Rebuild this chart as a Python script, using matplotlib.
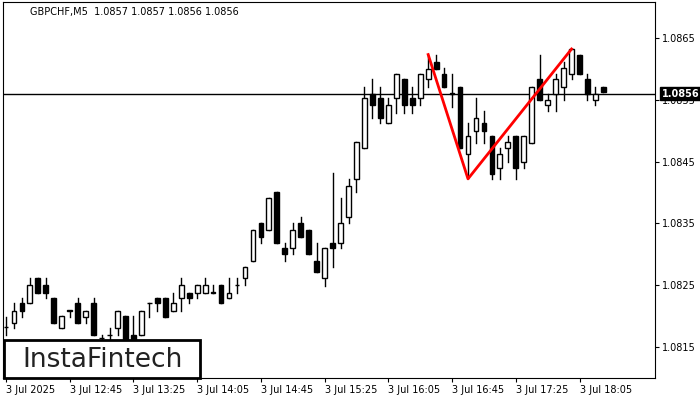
import matplotlib.pyplot as plt
from matplotlib.patches import Rectangle

symbol_title = "GBPCHF,M5  1.0857 1.0857 1.0856 1.0856"
last_price = 1.0856

opens = [1.08182, 1.08189, 1.08221, 1.08221, 1.08261, 1.08250, 1.08230, 1.08181, 1.08209, 1.08221,
         1.08198, 1.08221, 1.08164, 1.08169, 1.08181, 1.08200, 1.08169, 1.08169, 1.08221, 1.08230,
         1.08230, 1.08209, 1.08230, 1.08238, 1.08238, 1.08238, 1.08238, 1.08250, 1.08230, 1.08250,
         1.08261, 1.08290, 1.08351, 1.08340, 1.08401, 1.08311, 1.08311, 1.08351, 1.08340, 1.08290,
         1.08261, 1.08319, 1.08319, 1.08361, 1.08422, 1.08472, 1.08560, 1.08552, 1.08512, 1.08552,
         1.08583, 1.08552, 1.08552, 1.08583, 1.08611, 1.08592, 1.08560, 1.08571, 1.08462, 1.08500,
         1.08512, 1.08491, 1.08439, 1.08472, 1.08491, 1.08449, 1.08480, 1.08583, 1.08541, 1.08560,
         1.08570, 1.08592, 1.08623, 1.08583, 1.08550, 1.08571]
highs = [1.08198, 1.08221, 1.08230, 1.08261, 1.08261, 1.08261, 1.08230, 1.08200, 1.08209, 1.08230,
         1.08209, 1.08230, 1.08169, 1.08181, 1.08209, 1.08200, 1.08200, 1.08209, 1.08221, 1.08230,
         1.08230, 1.08238, 1.08261, 1.08238, 1.08250, 1.08261, 1.08250, 1.08250, 1.08261, 1.08261,
         1.08279, 1.08340, 1.08351, 1.08391, 1.08401, 1.08319, 1.08351, 1.08361, 1.08340, 1.08319,
         1.08311, 1.08431, 1.08391, 1.08422, 1.08481, 1.08571, 1.08583, 1.08571, 1.08552, 1.08592,
         1.08583, 1.08571, 1.08592, 1.08623, 1.08623, 1.08602, 1.08592, 1.08571, 1.08512, 1.08552,
         1.08531, 1.08491, 1.08472, 1.08491, 1.08491, 1.08491, 1.08571, 1.08623, 1.08560, 1.08592,
         1.08611, 1.08632, 1.08623, 1.08592, 1.08571, 1.08571]
lows = [1.08169, 1.08181, 1.08198, 1.08221, 1.08238, 1.08230, 1.08189, 1.08181, 1.08198, 1.08189,
        1.08189, 1.08169, 1.08156, 1.08161, 1.08169, 1.08153, 1.08161, 1.08169, 1.08198, 1.08209,
        1.08198, 1.08209, 1.08209, 1.08221, 1.08230, 1.08238, 1.08238, 1.08221, 1.08230, 1.08238,
        1.08250, 1.08290, 1.08319, 1.08340, 1.08319, 1.08290, 1.08301, 1.08328, 1.08301, 1.08271,
        1.08248, 1.08279, 1.08311, 1.08351, 1.08401, 1.08472, 1.08520, 1.08512, 1.08512, 1.08529,
        1.08529, 1.08529, 1.08541, 1.08571, 1.08600, 1.08570, 1.08539, 1.08472, 1.08423, 1.08480,
        1.08480, 1.08422, 1.08422, 1.08449, 1.08422, 1.08439, 1.08480, 1.08550, 1.08531, 1.08531,
        1.08550, 1.08583, 1.08592, 1.08550, 1.08541, 1.08562]
closes = [1.08183, 1.08209, 1.08208, 1.08250, 1.08238, 1.08238, 1.08189, 1.08200, 1.08209, 1.08189,
          1.08209, 1.08169, 1.08164, 1.08169, 1.08209, 1.08153, 1.08161, 1.08209, 1.08221, 1.08221,
          1.08198, 1.08221, 1.08250, 1.08230, 1.08250, 1.08250, 1.08238, 1.08221, 1.08238, 1.08250,
          1.08279, 1.08340, 1.08328, 1.08391, 1.08319, 1.08301, 1.08340, 1.08328, 1.08301, 1.08271,
          1.08311, 1.08311, 1.08351, 1.08410, 1.08481, 1.08552, 1.08541, 1.08520, 1.08541, 1.08592,
          1.08541, 1.08541, 1.08592, 1.08600, 1.08600, 1.08570, 1.08560, 1.08472, 1.08491, 1.08520,
          1.08500, 1.08430, 1.08462, 1.08481, 1.08439, 1.08491, 1.08571, 1.08550, 1.08550, 1.08583,
          1.08602, 1.08632, 1.08592, 1.08560, 1.08560, 1.08562]

# double top pattern: bar index -> price
pattern_idx = [53, 58, 71]
pattern_price = [1.08623, 1.08422, 1.08632]

price_ticks = [1.0815, 1.0825, 1.0835, 1.0845, 1.0855, 1.0865]
time_tick_idx = [0, 8, 16, 24, 32, 40, 48, 56, 64, 72]
time_tick_labels = ["3 Jul 2025", "3 Jul 12:45", "3 Jul 13:25", "3 Jul 14:05", "3 Jul 14:45",
                    "3 Jul 15:25", "3 Jul 16:05", "3 Jul 16:45", "3 Jul 17:25", "3 Jul 18:05"]

fig = plt.figure(figsize=(7, 4), dpi=100)
ax = fig.add_axes([0.004, 0.055, 0.932, 0.94])

w = 0.6
for i, (o, h, l, c) in enumerate(zip(opens, highs, lows, closes)):
    ax.plot([i, i], [l, h], color='black', lw=1, zorder=2)
    bottom = min(o, c)
    height = max(abs(c - o), 0.000008)
    face = 'white' if c > o else 'black'
    ax.add_patch(Rectangle((i - w / 2, bottom), w, height, facecolor=face,
                           edgecolor='black', lw=1, zorder=3))

ax.plot(pattern_idx, pattern_price, color='#ff0000', lw=2, zorder=4)
ax.axhline(last_price, color='black', lw=1, zorder=1)

ax.set_xlim(-0.4, 81.5)
ax.set_ylim(1.08100, 1.08708)

ax.yaxis.tick_right()
ax.set_yticks(price_ticks)
ax.set_yticklabels([f"{p:.4f}" for p in price_ticks], fontsize=7)
ax.set_xticks(time_tick_idx)
ax.set_xticklabels(time_tick_labels, fontsize=7, ha='left')
ax.tick_params(axis='both', length=3, pad=2)
for sp in ax.spines.values():
    sp.set_linewidth(0.8)

ax.text(0.5, 1.0856, f"{last_price:.4f}", transform=ax.get_yaxis_transform(), fontsize=7,
        color='white', va='center', ha='left', fontweight='bold',
        bbox=dict(boxstyle='square,pad=0.2', facecolor='black', edgecolor='black'))
ax.texts[-1].set_x(1.01)

fig.text(0.043, 0.97, symbol_title, fontsize=7, va='center', ha='left')

# logo box
fig.patches.append(Rectangle((0.006, 0.055), 0.28, 0.095, transform=fig.transFigure,
                             facecolor='white', edgecolor='black', lw=2, zorder=10))
fig.text(0.146, 0.1, "InstaFintech", fontsize=19, ha='center', va='center',
         color='#222222', zorder=11)

fig.savefig("out.png", dpi=100)
